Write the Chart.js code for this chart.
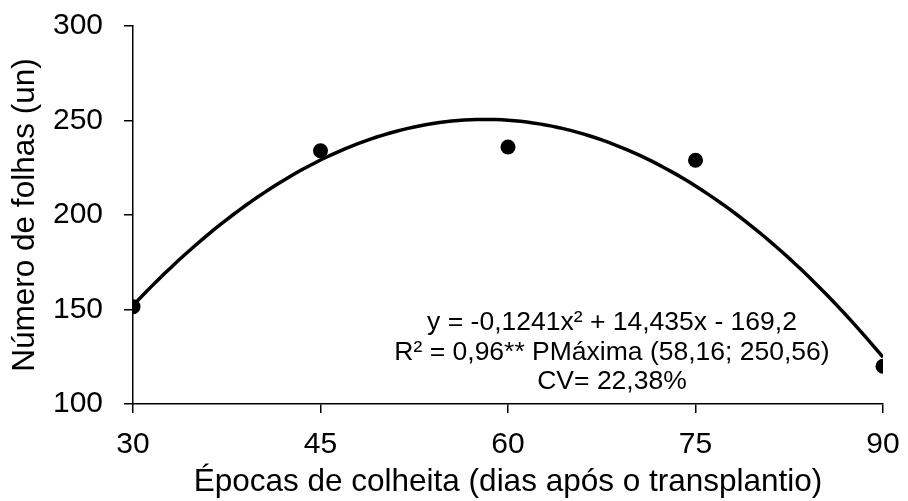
<!DOCTYPE html>
<html>
<head>
<meta charset="utf-8">
<script src="https://cdn.jsdelivr.net/npm/chart.js@4"></script>
<style>
  html, body { margin: 0; padding: 0; background: #fff; }
  #wrap { width: 908px; height: 501px; }
</style>
</head>
<body>
<div id="wrap"><canvas id="myChart"></canvas></div>
<script>
// data
const epocas = [30, 45, 60, 75, 90];
const folhas = [151.5, 234, 236, 229, 120];
const xTicks = [30, 45, 60, 75, 90];
const yTicks = [100, 150, 200, 250, 300];
// trend printed on the chart: y = -0,1241x² + 14,435x - 169,2
const trendCoef = [-0.1241, 14.435, -169.2];
const notes = [
  "y = -0,1241x² + 14,435x - 169,2",
  "R² = 0,96** PMáxima (58,16; 250,56)",
  "CV= 22,38%",
];

const font = "'Liberation Sans', Arial, sans-serif";

// curve from the printed equation
const trend = [];
for (let x = epocas[0]; x <= epocas[epocas.length - 1]; x += 0.5) {
  trend.push({ x: x, y: trendCoef[0] * x * x + trendCoef[1] * x + trendCoef[2] });
}

const notesPlugin = {
  id: "notes",
  afterDatasetsDraw(chart) {
    const c = chart.ctx;
    c.save();
    c.fillStyle = "#000";
    c.font = "26.5px " + font;
    c.textAlign = "center";
    c.textBaseline = "middle";
    notes.forEach((t, i) => {
      c.fillText(t, 612, 323 + i * 29.5);
    });
    c.restore();
  },
};

const ctx = document.getElementById("myChart");

const chart = new Chart(ctx, {
  type: "scatter",
  data: {
    datasets: [
      {
        label: "tendência",
        data: trend,
        showLine: true,
        borderColor: "#000",
        borderWidth: 3.5,
        pointRadius: 0,
        fill: false,
        order: 2,
      },
      {
        label: "Número de folhas",
        data: epocas.map((x, i) => ({ x: x, y: folhas[i] })),
        pointRadius: 7.5,
        pointBackgroundColor: "#000",
        pointBorderColor: "#000",
        pointBorderWidth: 0,
        order: 1,
      },
    ],
  },
  options: {
    responsive: true,
    maintainAspectRatio: false,
    animation: false,
    layout: { padding: { top: 26, right: 25, left: 0, bottom: 0 } },
    plugins: {
      legend: { display: false },
      tooltip: { enabled: false },
    },
    scales: {
      x: {
        type: "linear",
        min: 30,
        max: 90,
        afterBuildTicks: (s) => { s.ticks = xTicks.map((v) => ({ value: v })); },
        afterFit: (s) => {
          s.height = 97;
          s.paddingLeft = 0;
          s.paddingRight = 0;
        },
        border: { color: "#000", width: 1.5 },
        grid: { drawOnChartArea: false, color: "#000", lineWidth: 1.5, tickLength: 9 },
        ticks: { color: "#000", font: { family: font, size: 30 }, padding: 14 },
        title: {
          display: true,
          text: "Épocas de colheita (dias após o transplantio)",
          color: "#000",
          font: { family: font, size: 31.5 },
          padding: { top: 0, bottom: 0 },
        },
      },
      y: {
        type: "linear",
        min: 100,
        max: 300,
        afterBuildTicks: (s) => { s.ticks = yTicks.map((v) => ({ value: v })); },
        afterFit: (s) => {
          s.width = 133;
          s.paddingTop = 0;
          s.paddingBottom = 0;
        },
        border: { color: "#000", width: 1.5 },
        grid: { drawOnChartArea: false, color: "#000", lineWidth: 1.5, tickLength: 9 },
        ticks: { color: "#000", font: { family: font, size: 30 }, padding: 21 },
        title: {
          display: true,
          text: "Número de folhas (un)",
          color: "#000",
          font: { family: font, size: 31.5 },
          padding: { top: 6, bottom: 0 },
        },
      },
    },
  },
  plugins: [notesPlugin],
});
</script>
</body>
</html>
